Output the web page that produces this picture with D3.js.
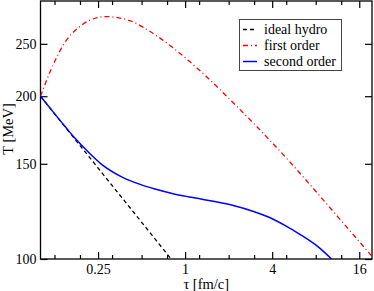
<!DOCTYPE html>
<html>
<head>
<meta charset="utf-8">
<script src="https://cdn.jsdelivr.net/npm/d3@7"></script>
<style>
  body { margin: 0; background: #fff; }
  svg text { font-family: 'Liberation Serif', 'Times New Roman', Times, 'DejaVu Serif', serif; }
</style>
</head>
<body>
<script>
'use strict';

// values: tau in fm/c, T in MeV
const idealTau = [0.1, 0.2, 0.4, 0.8];
const idealT = [200, 158.7, 126, 100];

const firstTau = [0.1, 0.1173, 0.145, 0.1893, 0.247, 0.282, 0.42, 0.563, 0.839,
                  1.044, 1.43, 2.074, 3.125, 5.17, 7.12, 11.5, 20];
const firstT = [200, 222.9, 249.7, 269.8, 279.5, 280.7, 275.6, 264.2, 244.9,
                233.4, 216.4, 196.4, 175.8, 152.3, 138.3, 119.3, 100.5];

const secondTau = [0.1, 0.125, 0.15, 0.174, 0.21, 0.266, 0.37, 0.478, 0.62, 0.813,
                   1.045, 1.285, 1.6, 2.187, 3.01, 3.73, 4.86, 6.34, 8.28, 10.3];
const secondT = [200, 185.7, 175, 167, 158.5, 149.5, 141.6, 137.7, 134.7, 132.2,
                 130.4, 129.1, 127.7, 125.4, 122.3, 119.7, 115.5, 110.7, 105.4, 100];

const xMajorTicks = [0.25, 1, 4, 16];
const xMinorTicks = [0.125, 0.1875, 0.3125, 0.5, 0.75, 1.25, 2, 3, 5, 8, 12];
const yTicks = [100, 150, 200, 250];
const seriesNames = ['ideal hydro', 'first order', 'second order'];

(function() {
  let svgContainer = "";
  const left = 40.5, right = 372, top = 1, bottom = 259;

  window.onload = function() {
    svgContainer = d3.select('body')
      .append('svg')
      .attr('width', 374)
      .attr('height', 291);

    let map = drawAxes();
    plotLines(map);
    makeLegend();
    makeLabels();
  }

  function drawAxes() {
    let xScale = d3.scaleLog()
      .domain([0.1, 19.6])
      .range([left, right]);

    let yScale = d3.scaleLog()
      .domain([100, 300])
      .range([bottom, top]);

    let fmt = (d) => String(d);

    let bottomAxis = svgContainer.append('g')
      .attr('transform', 'translate(0,' + bottom + ')')
      .call(d3.axisBottom(xScale).tickValues(xMajorTicks).tickSize(-7).tickPadding(5).tickFormat(fmt));
    svgContainer.append('g')
      .attr('transform', 'translate(0,' + bottom + ')')
      .call(d3.axisBottom(xScale).tickValues(xMinorTicks).tickSize(-4).tickFormat(''));
    svgContainer.append('g')
      .attr('transform', 'translate(0,' + top + ')')
      .call(d3.axisTop(xScale).tickValues(xMajorTicks).tickSize(-7).tickFormat(''));
    svgContainer.append('g')
      .attr('transform', 'translate(0,' + top + ')')
      .call(d3.axisTop(xScale).tickValues(xMinorTicks).tickSize(-4).tickFormat(''));

    let leftAxis = svgContainer.append('g')
      .attr('transform', 'translate(' + left + ',0)')
      .call(d3.axisLeft(yScale).tickValues(yTicks).tickSize(-7).tickPadding(4).tickFormat(fmt));
    svgContainer.append('g')
      .attr('transform', 'translate(' + right + ',0)')
      .call(d3.axisRight(yScale).tickValues(yTicks).tickSize(-7).tickFormat(''));

    svgContainer.selectAll('.domain').remove();
    svgContainer.selectAll('.tick line')
      .attr('stroke', '#000')
      .attr('stroke-width', 1.2);

    [bottomAxis, leftAxis].forEach((g) => {
      g.attr('font-family', null).attr('font-size', 14);
      g.selectAll('text').attr('fill', '#000');
    });

    svgContainer.append('rect')
      .attr('x', left)
      .attr('y', top)
      .attr('width', right - left)
      .attr('height', bottom - top)
      .attr('fill', 'none')
      .attr('stroke', '#000')
      .attr('stroke-width', 1.3);

    svgContainer.append('clipPath')
      .attr('id', 'plotArea')
      .append('rect')
      .attr('x', left)
      .attr('y', top)
      .attr('width', right - left)
      .attr('height', bottom - top);

    return { xScale: xScale, yScale: yScale };
  }

  function plotLines(map) {
    let line = d3.line()
      .x((d) => map.xScale(d[0]))
      .y((d) => map.yScale(d[1]))
      .curve(d3.curveMonotoneX);

    let zip = (a, b) => a.map((v, i) => [v, b[i]]);

    let g = svgContainer.append('g').attr('clip-path', 'url(#plotArea)');

    g.append('path')
      .attr('d', line(zip(idealTau, idealT)))
      .attr('fill', 'none')
      .attr('stroke', '#000')
      .attr('stroke-width', 1.3)
      .attr('stroke-dasharray', '4,3');

    g.append('path')
      .attr('d', line(zip(firstTau, firstT)))
      .attr('fill', 'none')
      .attr('stroke', '#ff0000')
      .attr('stroke-width', 1.3)
      .attr('stroke-dasharray', '5,3,1,3');

    g.append('path')
      .attr('d', line(zip(secondTau, secondT)))
      .attr('fill', 'none')
      .attr('stroke', '#0000ff')
      .attr('stroke-width', 1.5);
  }

  function makeLegend() {
    let styles = [
      { color: '#000', dash: '4,3' },
      { color: '#ff0000', dash: '5,3,1,3' },
      { color: '#0000ff', dash: null }
    ];

    let legend = svgContainer.append('g');
    legend.append('rect')
      .attr('x', 239.5)
      .attr('y', 19.5)
      .attr('width', 102)
      .attr('height', 51)
      .attr('fill', '#fff')
      .attr('stroke', '#444')
      .attr('stroke-width', 1);

    let rows = legend.selectAll('.row')
      .data(seriesNames)
      .enter()
      .append('g')
        .attr('transform', (d, i) => 'translate(0,' + (29.5 + i * 16) + ')');

    rows.append('line')
      .attr('x1', 243)
      .attr('x2', 257)
      .attr('stroke', (d, i) => styles[i].color)
      .attr('stroke-width', (d, i) => i == 2 ? 1.5 : 1.3)
      .attr('stroke-dasharray', (d, i) => styles[i].dash);

    rows.append('text')
      .attr('x', 264)
      .attr('y', 4.5)
      .style('font-size', '14px')
      .text((d) => d);
  }

  function makeLabels() {
    svgContainer.append('text')
      .attr('x', (left + right) / 2)
      .attr('y', 289)
      .attr('text-anchor', 'middle')
      .style('font-size', '14.5px')
      .text('τ [fm/c]');

    svgContainer.append('text')
      .attr('transform', 'translate(12.5, 129)rotate(-90)')
      .attr('text-anchor', 'middle')
      .style('font-size', '14.5px')
      .text('T [MeV]');
  }

})();
</script>
</body>
</html>
